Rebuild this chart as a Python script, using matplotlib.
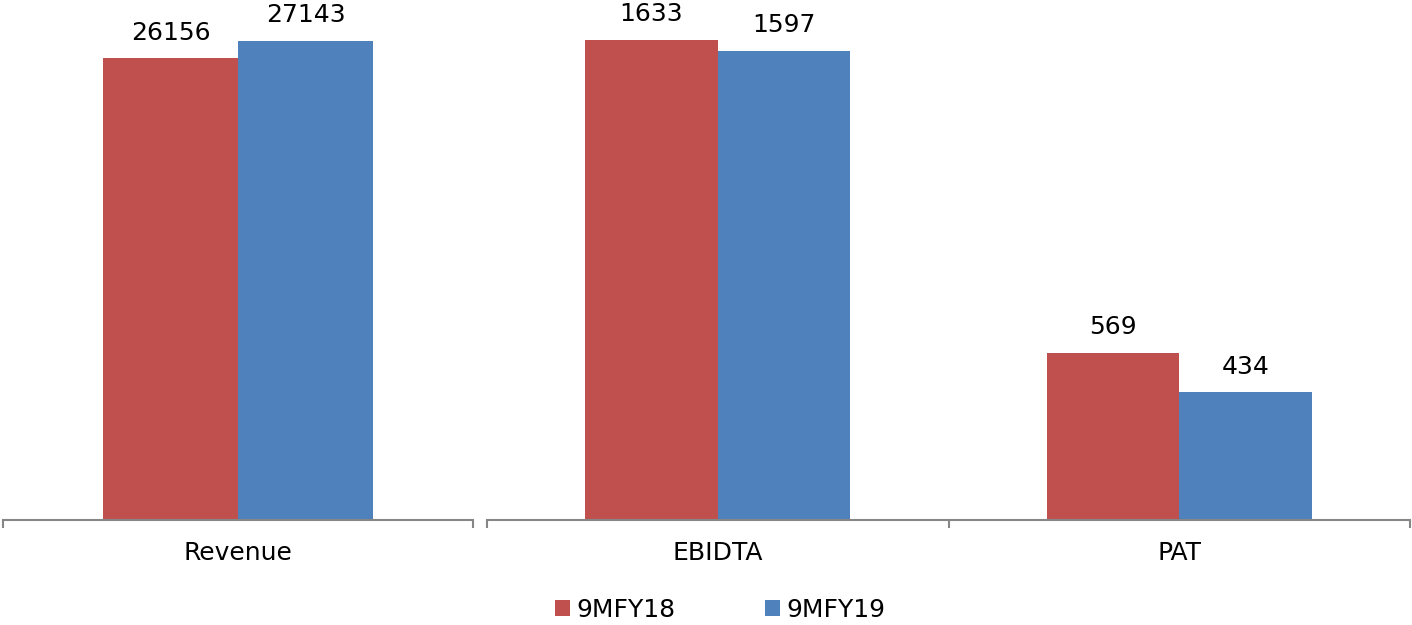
import matplotlib
matplotlib.use("Agg")
import matplotlib.pyplot as plt

groups_left = ["Revenue"]
groups_right = ["EBIDTA", "PAT"]
series = ["9MFY18", "9MFY19"]
left_fy18 = [26156]
left_fy19 = [27143]
right_fy18 = [1633, 569]
right_fy19 = [1597, 434]
colors = ["#C0504D", "#4F81BD"]

plt.rcParams['font.family'] = ['DejaVu Sans']
W, H = 1412, 625
fig = plt.figure(figsize=(W / 100, H / 100), dpi=100)

base_y = 520
ax1 = fig.add_axes([3 / W, (H - base_y) / H, 470 / W, base_y / H])
ax2 = fig.add_axes([487 / W, (H - base_y) / H, 923 / W, base_y / H])

bw = 0.287
fs = 18

def draw(ax, cats, a, b, ymax):
    xs = list(range(len(cats)))
    r1 = ax.bar([x - bw / 2 for x in xs], a, bw, color=colors[0], label=series[0])
    r2 = ax.bar([x + bw / 2 for x in xs], b, bw, color=colors[1], label=series[1])
    for rects, vals in ((r1, a), (r2, b)):
        for rect, v in zip(rects, vals):
            ax.annotate(str(v), (rect.get_x() + rect.get_width() / 2, v),
                        xytext=(0, 10), textcoords="offset points",
                        ha="center", va="bottom", fontsize=fs, color="#000000")
    ax.set_xlim(-0.5, len(cats) - 0.5)
    ax.set_ylim(0, ymax)
    ax.set_xticks(xs)
    ax.set_xticklabels(cats, fontsize=fs)
    ax.set_xticks([i - 0.5 for i in range(len(cats) + 1)], minor=True)
    ax.tick_params(axis="x", which="major", length=0, pad=15)
    ax.tick_params(axis="x", which="minor", length=6, width=1.5, color="#868686")
    ax.set_yticks([])
    for s in ("top", "right", "left"):
        ax.spines[s].set_visible(False)
    ax.spines["bottom"].set_color("#868686")
    ax.spines["bottom"].set_linewidth(1.5)
    ax.patch.set_alpha(0)
    return r1, r2

draw(ax1, groups_left, left_fy18, left_fy19, 27143 * 520 / 479)
h1, h2 = draw(ax2, groups_right, right_fy18, right_fy19, 1633 * 520 / 480)

fig.legend([h1, h2], series, loc="center", bbox_to_anchor=(720 / W, 1 - 610 / H),
           ncol=2, frameon=False, fontsize=fs, handlelength=0.6, handleheight=0.6,
           handletextpad=0.25, columnspacing=3.6)

fig.savefig("out.png", dpi=100)
